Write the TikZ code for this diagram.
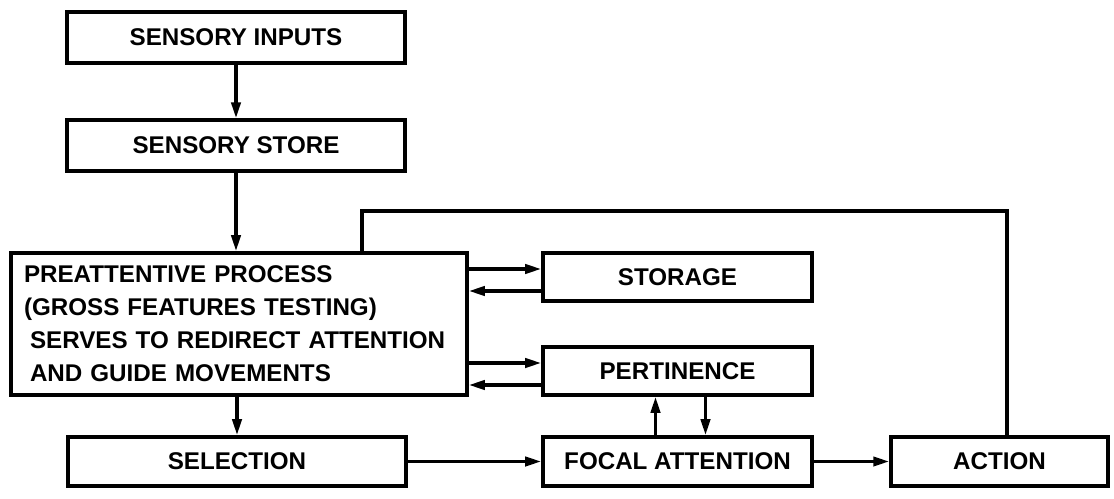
\documentclass[tikz,border=0pt]{standalone}
\usepackage{fontspec}
\setmainfont{Liberation Sans}
\usetikzlibrary{arrows.meta}
\tikzstyle{block} = [rectangle, draw=black, line width=2.5pt, minimum height=1.225cm, text centered, font=\bfseries\fontsize{17.2}{23.5}\selectfont]
\tikzstyle{arrow} = [line width=2.4pt, -{Triangle[length=0.4cm,width=0.23cm]}]
\tikzstyle{link} = [line width=2.4pt]

\begin{document}
\begin{tikzpicture}
        \useasboundingbox (0,0) rectangle (27.85,-12.475);
        \node (si) [block, minimum width=8.45cm, minimum height=1.275cm] at (5.9,-0.94) {SENSORY INPUTS};
        \node (ss) [block, minimum width=8.45cm, minimum height=1.275cm, below of=si, node distance=2.7cm] {SENSORY STORE};
        \draw [arrow] (si) -- (ss);
        \node (pre) [block, minimum width=11.4cm, minimum height=3.55cm, text width=10.75cm, inner xsep=0.325cm, align=left] at (5.975,-8.1) {PREATTENTIVE PROCESS\\ (GROSS FEATURES TESTING)\\ \hspace{0.15cm}SERVES TO REDIRECT ATTENTION\\ \hspace{0.15cm}AND GUIDE MOVEMENTS};
        \draw [arrow] (ss.south) -- (ss.south |- pre.north);
        \node (stor) [block, minimum width=6.725cm, minimum height=1.2cm] at (16.9375,-6.925) {STORAGE};
        \draw [arrow] ([yshift=0.2cm]stor.west -| pre.east) -- ([yshift=0.2cm]stor.west);
        \draw [arrow] ([yshift=-0.35cm]stor.west) -- ([yshift=-0.35cm]stor.west -| pre.east);
        \node (pert) [block, minimum width=6.725cm, minimum height=1.2cm, below of=stor, node distance=2.35cm] {PERTINENCE};
        \draw [arrow] ([yshift=0.2cm]pert.west -| pre.east) -- ([yshift=0.2cm]pert.west);
        \draw [arrow] ([yshift=-0.35cm]pert.west) -- ([yshift=-0.35cm]pert.west -| pre.east);
        \node (sel) [block, minimum width=8.45cm] at (5.925,-11.5375) {SELECTION};
        \draw [arrow] (pre.south -| sel.north) -- (sel.north);
        \node (foc) [block, minimum width=6.725cm] at (16.9375,-11.5375) {FOCAL ATTENTION};
        \draw [arrow] (sel) -- (foc);
        \draw [arrow] ([xshift=-0.55cm]foc.north) -- ([xshift=-0.55cm]foc.north |- pert.south);
        \draw [arrow] ([xshift=0.7cm]pert.south) -- ([xshift=0.7cm]pert.south |- foc.north);
        \node (act) [block, minimum width=5.425cm] at (24.9875,-11.5375) {ACTION};
        \draw [arrow] (foc) -- (act);
        % feedback from action back to the preattentive process
        \coordinate (turn) at (9.05,-5.275);
        \draw [link] ([xshift=0.1875cm]act.north) |- (turn) -- (turn |- pre.north);
    \end{tikzpicture}
\end{document}
